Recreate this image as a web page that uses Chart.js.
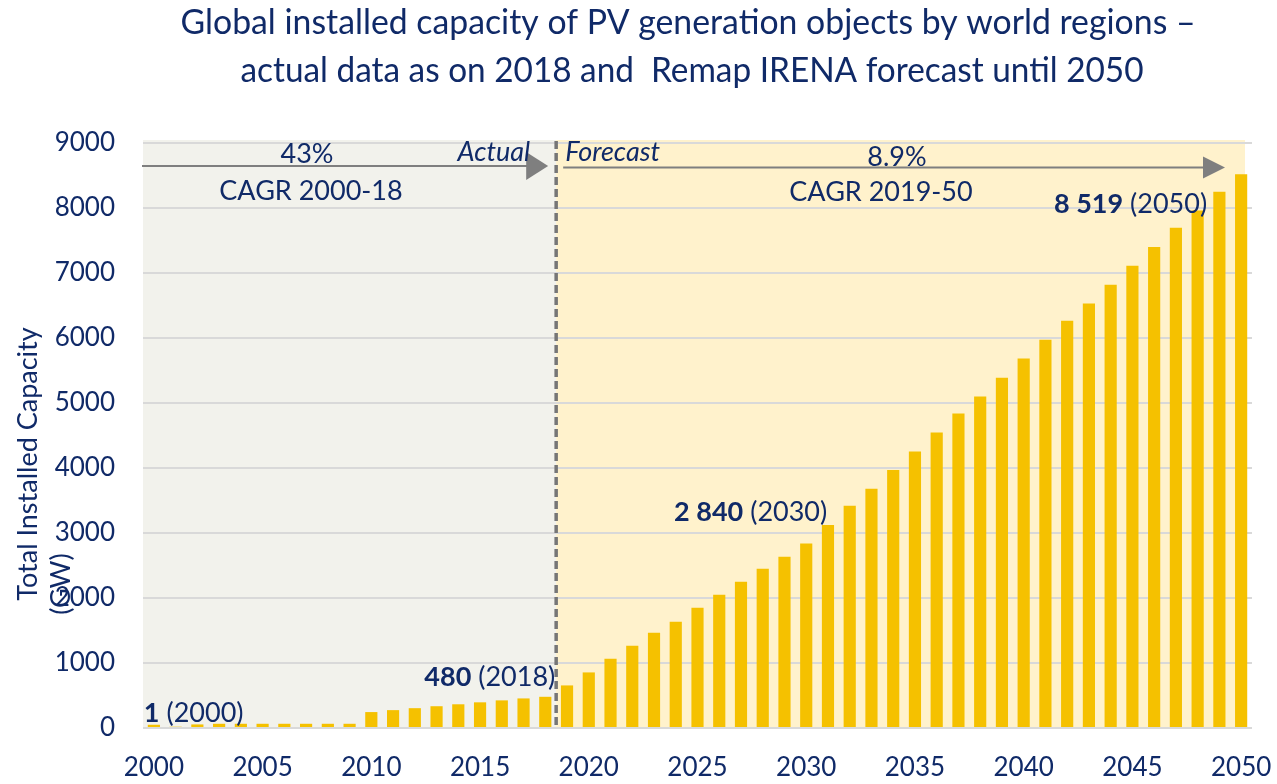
<!DOCTYPE html>
<html>
<head>
<meta charset="utf-8">
<title>Global installed capacity of PV generation</title>
<script src="https://cdn.jsdelivr.net/npm/chart.js@4.4.1/dist/chart.umd.min.js"></script>
<style>
  html, body { margin: 0; padding: 0; background: #fff; }
  #wrap { width: 1277px; height: 784px; }
</style>
</head>
<body>
<div id="wrap"><canvas id="pvChart" width="1277" height="784"></canvas></div>
<script>
// === Data ===
const years = [
  2000, 2001, 2002, 2003, 2004, 2005, 2006, 2007, 2008, 2009,
  2010, 2011, 2012, 2013, 2014, 2015, 2016, 2017, 2018, 2019,
  2020, 2021, 2022, 2023, 2024, 2025, 2026, 2027, 2028, 2029,
  2030, 2031, 2032, 2033, 2034, 2035, 2036, 2037, 2038, 2039,
  2040, 2041, 2042, 2043, 2044, 2045, 2046, 2047, 2048, 2049,
  2050
];
const capacityGW = [
  50, 20, 55, 65, 65, 65, 65, 65, 65, 65,
  245, 275, 305, 335, 365, 395, 425, 455, 480, 655,
  855, 1065, 1265, 1465, 1635, 1850, 2050, 2250, 2450, 2635,
  2840, 3125, 3420, 3680, 3970, 4255, 4545, 4840, 5100, 5390,
  5685, 5975, 6265, 6530, 6820, 7110, 7400, 7695, 7960, 8250,
  8519
];
const shownYears = [2000, 2005, 2010, 2015, 2020, 2025, 2030, 2035, 2040, 2045, 2050];
const titleLines = [
  'Global installed capacity of PV generation objects by world regions \u2013',
  'actual data as on 2018 and  Remap IRENA forecast until 2050'
];
const axisTitle = ['Total Installed Capacity', '(GW)'];
const lastActualYear = 2018;
const actualCagr = ['43%', 'CAGR 2000-18'];
const forecastCagr = ['8.9%', 'CAGR 2019-50'];
const phaseLabels = ['Actual', 'Forecast'];
const callouts = [
  { year: 2000, bold: '1', rest: ' (2000)' },
  { year: 2018, bold: '480', rest: ' (2018)' },
  { year: 2030, bold: '2 840', rest: ' (2030)' },
  { year: 2050, bold: '8 519', rest: ' (2050)' }
];

// === Styling ===
const NAVY = '#102a68';
const GOLD = '#f5c100';
const FONT = 'Lato';

// where each callout sits relative to its bar (x: bar centre, y: bar top)
const calloutPlace = {
  2000: { align: 'left', dx: -10, dy: -3 },
  2018: { align: 'right', dx: 10, dy: -11 },
  2030: { align: 'right', dx: 21, dy: -22 },
  2050: { align: 'right', dx: -34, dy: 39 }
};

function drawArrow(ctx, x1, x2, y, headLen, headH) {
  ctx.strokeStyle = '#7f7f7f';
  ctx.fillStyle = '#7f7f7f';
  ctx.lineWidth = 2;
  ctx.beginPath();
  ctx.moveTo(x1, y);
  ctx.lineTo(x2 - headLen + 1, y);
  ctx.stroke();
  ctx.beginPath();
  ctx.moveTo(x2, y);
  ctx.lineTo(x2 - headLen, y - headH / 2);
  ctx.lineTo(x2 - headLen, y + headH / 2);
  ctx.closePath();
  ctx.fill();
}

function fitText(ctx, text, cx, baseline, width) {
  const w = ctx.measureText(text).width;
  ctx.save();
  ctx.translate(cx, baseline);
  ctx.scale(width / w, 1);
  ctx.textAlign = 'center';
  ctx.fillText(text, 0, 0);
  ctx.restore();
}

const decorPlugin = {
  id: 'decor',
  beforeDraw(chart) {
    const { ctx, chartArea, scales } = chart;
    const split = (scales.x.getPixelForValue(years.indexOf(lastActualYear)) +
                   scales.x.getPixelForValue(years.indexOf(lastActualYear) + 1)) / 2;
    ctx.save();
    ctx.fillStyle = '#f2f2ec';
    ctx.fillRect(chartArea.left, chartArea.top - 3, split - chartArea.left, chartArea.bottom - chartArea.top + 3);
    ctx.fillStyle = '#fff2cc';
    ctx.fillRect(split, chartArea.top - 3, chartArea.right - 7 - split, chartArea.bottom - chartArea.top + 3);

    // title
    ctx.fillStyle = NAVY;
    ctx.font = `35px ${FONT}`;
    fitText(ctx, titleLines[0], 688, 34, 1015);
    fitText(ctx, titleLines[1], 692, 82, 903);

    // y axis title
    ctx.font = `27px ${FONT}`;
    ctx.textAlign = 'center';
    ctx.textBaseline = 'middle';
    ctx.save();
    ctx.translate(28, 464);
    ctx.rotate(-Math.PI / 2);
    ctx.fillText(axisTitle[0], 0, 0);
    ctx.restore();
    ctx.save();
    ctx.translate(61, 584);
    ctx.rotate(-Math.PI / 2);
    ctx.fillText(axisTitle[1], 0, 0);
    ctx.restore();
    ctx.restore();
  },
  afterDatasetsDraw(chart) {
    const { ctx, chartArea, scales } = chart;
    const x = scales.x, y = scales.y;
    const split = (x.getPixelForValue(years.indexOf(lastActualYear)) +
                   x.getPixelForValue(years.indexOf(lastActualYear) + 1)) / 2;
    ctx.save();

    // actual / forecast divider
    ctx.strokeStyle = '#767676';
    ctx.lineWidth = 3.5;
    ctx.setLineDash([8, 4]);
    ctx.beginPath();
    ctx.moveTo(split, chartArea.top - 2);
    ctx.lineTo(split, chartArea.bottom);
    ctx.stroke();
    ctx.setLineDash([]);

    // CAGR arrows
    drawArrow(ctx, chartArea.left - 1, split - 8, 166, 22, 28);
    drawArrow(ctx, split + 7, chartArea.right - 27, 167.5, 22, 22);

    ctx.fillStyle = NAVY;
    ctx.textBaseline = 'alphabetic';
    ctx.textAlign = 'center';
    ctx.font = `27px ${FONT}`;
    ctx.fillText(actualCagr[0], 307, 163);
    ctx.fillText(actualCagr[1], 311, 200);
    ctx.fillText(forecastCagr[0], 897, 166);
    ctx.fillText(forecastCagr[1], 881, 201);

    ctx.font = `italic 27px ${FONT}`;
    ctx.textAlign = 'right';
    ctx.fillText(phaseLabels[0], split - 26, 161);
    ctx.textAlign = 'left';
    ctx.fillText(phaseLabels[1], split + 9, 161);

    // value callouts
    callouts.forEach(c => {
      const i = years.indexOf(c.year);
      const p = calloutPlace[c.year];
      const bx = x.getPixelForValue(i);
      const by = y.getPixelForValue(capacityGW[i]);
      ctx.font = `bold 27px ${FONT}`;
      const wb = ctx.measureText(c.bold).width;
      ctx.font = `27px ${FONT}`;
      const wr = ctx.measureText(c.rest).width;
      let start = bx + p.dx;
      if (p.align === 'right') start -= wb + wr;
      ctx.textAlign = 'left';
      ctx.font = `bold 27px ${FONT}`;
      ctx.fillText(c.bold, start, by + p.dy);
      ctx.font = `27px ${FONT}`;
      ctx.fillText(c.rest, start + wb, by + p.dy);
    });
    ctx.restore();
  }
};

new Chart(document.getElementById('pvChart'), {
  type: 'bar',
  data: {
    labels: years,
    datasets: [{
      label: 'Total installed capacity (GW)',
      data: capacityGW,
      backgroundColor: GOLD,
      borderWidth: 0,
      barPercentage: 0.56,
      categoryPercentage: 1.0
    }]
  },
  options: {
    responsive: false,
    animation: false,
    devicePixelRatio: 1,
    layout: { padding: { top: 143, right: 25, bottom: 0, left: 0 } },
    plugins: {
      legend: { display: false },
      tooltip: { enabled: false },
      title: { display: false }
    },
    scales: {
      x: {
        grid: { display: false, drawTicks: false },
        border: { display: false },
        ticks: {
          autoSkip: false,
          maxRotation: 0,
          padding: 24,
          color: NAVY,
          font: { family: FONT, size: 26 },
          callback: (v, i) => shownYears.includes(years[i]) ? String(years[i]) : ''
        },
        afterFit: s => {
          s.height = 56;
          s.paddingLeft = 0;
          s.paddingRight = 0;
        }
      },
      y: {
        min: 0,
        max: 9000,
        grid: { color: '#d9d9d9', lineWidth: 2, drawTicks: false },
        border: { display: false },
        ticks: {
          stepSize: 1000,
          padding: 28,
          color: NAVY,
          font: { family: FONT, size: 26 },
          callback: v => String(v)
        },
        afterFit: s => { s.width = 143; }
      }
    }
  },
  plugins: [decorPlugin]
});
</script>
</body>
</html>
